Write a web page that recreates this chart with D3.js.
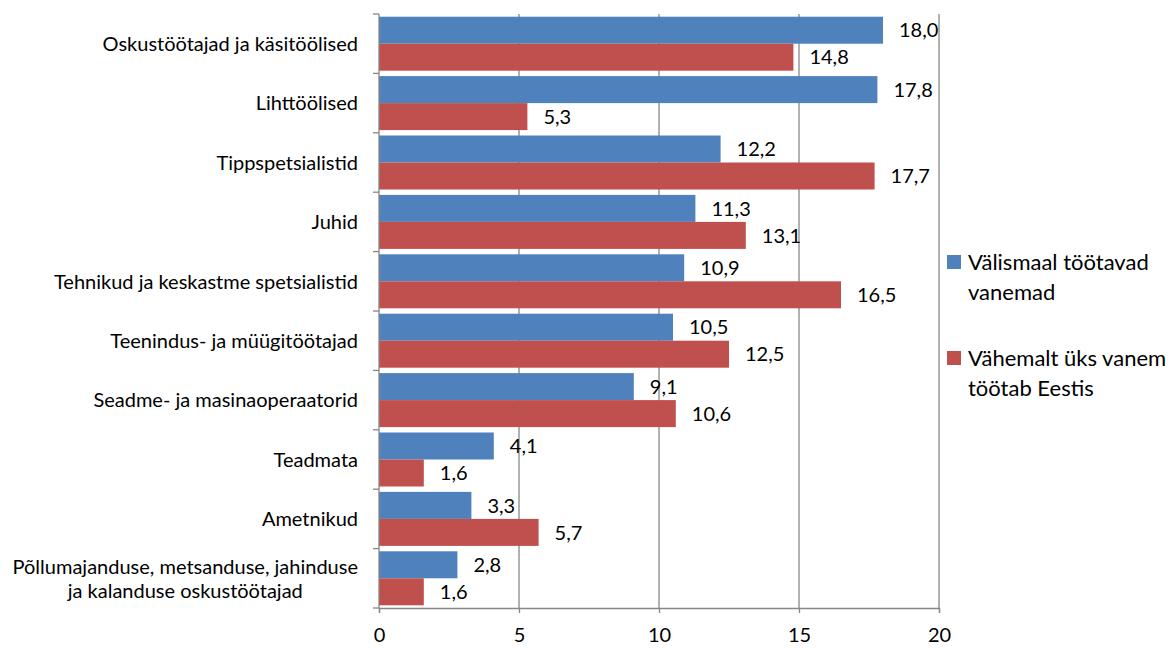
<!DOCTYPE html>
<html>
<head>
<meta charset="utf-8">
<script src="https://cdn.jsdelivr.net/npm/d3@7"></script>
<style>
  html, body { margin: 0; padding: 0; background: #fff; }
  svg text { font-family: Lato, "Open Sans", sans-serif; fill: #000; }
</style>
</head>
<body>
<svg id="chart" width="1173" height="648"></svg>
<script>
// Occupation groups (top to bottom)
const categories = [
  ["Oskustöötajad ja käsitöölised"],
  ["Lihttöölised "],
  ["Tippspetsialistid"],
  ["Juhid"],
  ["Tehnikud ja keskastme spetsialistid"],
  ["Teenindus- ja müügitöötajad"],
  ["Seadme- ja masinaoperaatorid"],
  ["Teadmata"],
  ["Ametnikud"],
  ["Põllumajanduse, metsanduse, jahinduse", "ja kalanduse oskustöötajad"]
];
const abroadValues = [18.0, 17.8, 12.2, 11.3, 10.9, 10.5, 9.1, 4.1, 3.3, 2.8];
const estoniaValues = [14.8, 5.3, 17.7, 13.1, 16.5, 12.5, 10.6, 1.6, 5.7, 1.6];
const seriesNames = [
  ["Välismaal töötavad", "vanemad"],
  ["Vähemalt üks vanem", "töötab Eestis"]
];
const seriesColors = ["#4F81BD", "#C0504D"];
const xTicks = [0, 5, 10, 15, 20];

const svg = d3.select("#chart");
const plotLeft = 379, plotRight = 939, plotTop = 14, plotBottom = 608;
const gridColor = "#878787";

const x = d3.scaleLinear().domain([0, 20]).range([plotLeft, plotRight]);
const y = d3.scaleBand().domain(d3.range(categories.length)).range([plotTop, plotBottom]).paddingInner(0).paddingOuter(0);
const inner = d3.scaleBand().domain([0, 1]).range([0, y.bandwidth()]).paddingInner(0).paddingOuter(0.1);

// vertical gridlines
svg.append("g").selectAll("line").data(xTicks.slice(1)).join("line")
  .attr("x1", d => x(d)).attr("x2", d => x(d))
  .attr("y1", plotTop).attr("y2", plotBottom)
  .attr("stroke", gridColor).attr("stroke-width", 1.3);

// bars with value labels
const series = [abroadValues, estoniaValues];
series.forEach((vals, s) => {
  svg.append("g").selectAll("rect").data(vals).join("rect")
    .attr("x", x(0))
    .attr("y", (d, i) => y(i) + inner(s))
    .attr("width", d => x(d) - x(0))
    .attr("height", inner.bandwidth())
    .attr("fill", seriesColors[s]);
  svg.append("g").selectAll("text").data(vals).join("text")
    .attr("x", d => x(d) + 16)
    .attr("y", (d, i) => y(i) + inner(s) + inner.bandwidth() / 2)
    .attr("dy", "0.36em")
    .attr("font-size", 20)
    .text(d => d.toFixed(1).replace(".", ","));
});

// x axis
const xAxis = svg.append("g").attr("transform", `translate(0,${plotBottom})`)
  .call(d3.axisBottom(x).tickValues(xTicks).tickSize(5).tickPadding(15).tickFormat(d => d));
xAxis.select(".domain").attr("stroke", gridColor).attr("stroke-width", 1.3);
xAxis.selectAll(".tick line").attr("stroke", gridColor).attr("stroke-width", 1.3);
xAxis.selectAll(".tick text").attr("font-size", 20).attr("font-family", "Lato, 'Open Sans', sans-serif");

// y axis line and boundary ticks
svg.append("line").attr("x1", plotLeft).attr("x2", plotLeft).attr("y1", plotTop).attr("y2", plotBottom)
  .attr("stroke", gridColor).attr("stroke-width", 1.3);
const bounds = d3.range(categories.length + 1).map(i => plotTop + i * y.step());
svg.append("g").selectAll("line").data(bounds).join("line")
  .attr("x1", plotLeft - 6).attr("x2", plotLeft).attr("y1", d => d).attr("y2", d => d)
  .attr("stroke", gridColor).attr("stroke-width", 1.3);

// category labels (multi-line labels centred on each other, block right-aligned)
const labelRight = 358;
categories.forEach((lines, i) => {
  const cy = y(i) + y.bandwidth() / 2;
  const lh = 24;
  const g = svg.append("g");
  const texts = lines.map((t, k) => g.append("text")
    .attr("font-size", 20)
    .attr("y", cy + (k - (lines.length - 1) / 2) * lh)
    .attr("dy", "0.36em")
    .text(t));
  const widths = texts.map(t => t.node().getComputedTextLength());
  const maxW = d3.max(widths);
  const center = labelRight - maxW / 2;
  texts.forEach(t => t.attr("x", center).attr("text-anchor", "middle"));
});

// legend
const legendY = [262, 358];
seriesNames.forEach((lines, s) => {
  svg.append("rect").attr("x", 947).attr("y", legendY[s] - 7).attr("width", 14).attr("height", 14)
    .attr("fill", seriesColors[s]);
  lines.forEach((t, k) => {
    svg.append("text").attr("x", 968).attr("y", legendY[s] + k * 30)
      .attr("dy", "0.36em").attr("font-size", 22).text(t);
  });
});
</script>
</body>
</html>
